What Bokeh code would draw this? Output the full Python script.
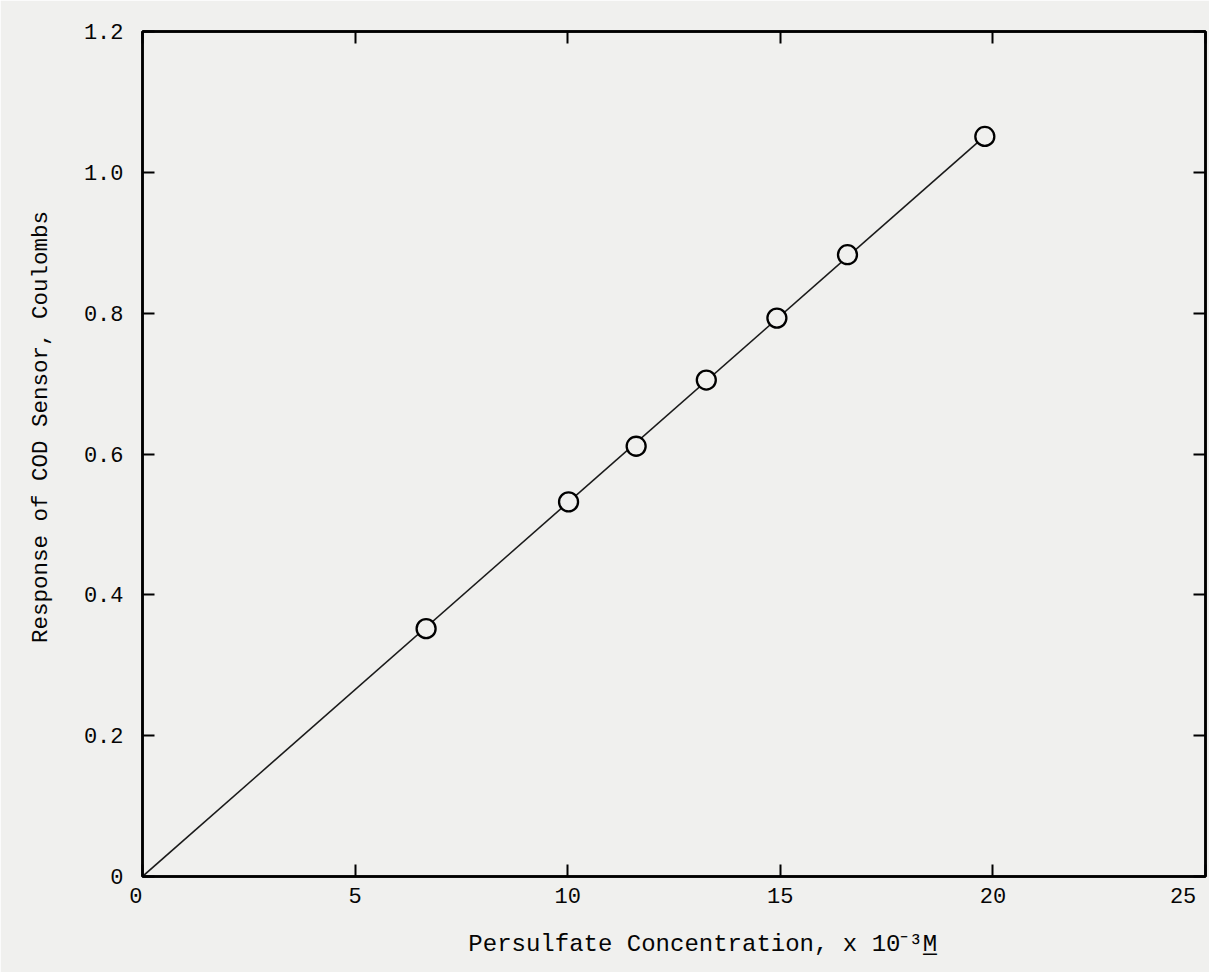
from bokeh.plotting import figure
from bokeh.models import LinearAxis, FixedTicker, Range1d
from bokeh.embed import file_html
from bokeh.resources import INLINE

# ---- data ----
conc = [6.67, 10.02, 11.61, 13.26, 14.92, 16.58, 19.81]      # persulfate, x10^-3 M
resp = [0.352, 0.532, 0.611, 0.705, 0.793, 0.883, 1.051]     # response, Coulombs

x_ticks = [0, 5, 10, 15, 20, 25]
x_tick_labels = ["0", "5", "10", "15", "20", "25"]
y_ticks = [0, 0.2, 0.4, 0.6, 0.8, 1.0, 1.2]
y_tick_labels = ["0", "0.2", "0.4", "0.6", "0.8", "1.0", "1.2"]

x_label = "Persulfate Concentration, x 10\u207b\u00b3M\u0332"
y_label = "Response of COD Sensor, Coulombs"

# least-squares line through the origin, from the data
slope = sum(a * b for a, b in zip(conc, resp)) / sum(a * a for a in conc)
fit_x = [0, max(conc)]
fit_y = [0, slope * max(conc)]

BG = "#f0f0ee"
FONT = "Liberation Mono"
NB = "\u00a0"   # non-breaking space, used only to nudge labels

p = figure(width=1209, height=972,
           x_range=Range1d(x_ticks[0], x_ticks[-1]),
           y_range=Range1d(y_ticks[0], y_ticks[-1]),
           output_backend="svg", toolbar_location=None,
           min_border_left=142, min_border_right=4,
           min_border_top=31, min_border_bottom=96,
           background_fill_color=BG, border_fill_color=BG,
           outline_line_color="black", outline_line_width=2.5)
p.xgrid.visible = False
p.ygrid.visible = False

def style_axis(ax, ticks):
    ax.ticker = FixedTicker(ticks=ticks)
    ax.minor_tick_line_color = None
    ax.major_tick_in = 12
    ax.major_tick_out = 0
    ax.major_tick_line_width = 2
    ax.major_tick_line_color = "black"
    ax.axis_line_width = 2.5
    ax.axis_line_color = "black"
    ax.major_label_text_font = FONT
    ax.major_label_text_font_size = "22px"
    ax.major_label_text_color = "#050505"
    ax.axis_label_text_font = FONT
    ax.axis_label_text_font_style = "normal"
    ax.axis_label_text_color = "#050505"

# the first and last x tick labels sit inward of their ticks, as in the original
x_lbl = list(x_tick_labels)
x_lbl[0] = x_lbl[0] + NB
x_lbl[-1] = x_lbl[-1] + NB

xa = p.xaxis[0]
style_axis(xa, x_ticks)
xa.major_label_overrides = dict(zip(x_ticks, x_lbl))
xa.major_label_standoff = 8
xa.axis_label = NB * 4 + x_label
xa.axis_label_text_font_size = "24px"
xa.axis_label_standoff = 18

ya = p.yaxis[0]
style_axis(ya, y_ticks)
ya.major_label_overrides = dict(zip(y_ticks, y_tick_labels))
ya.major_label_standoff = 19
ya.axis_label = NB * 4 + y_label
ya.axis_label_text_font_size = "22.5px"
ya.axis_label_standoff = 27

top = LinearAxis()
style_axis(top, x_ticks)
top.major_label_text_font_size = "1px"
top.major_label_text_color = None
top.major_label_standoff = 0
p.add_layout(top, "above")

right = LinearAxis()
style_axis(right, y_ticks)
right.major_label_text_font_size = "1px"
right.major_label_text_color = None
right.major_label_standoff = 0
p.add_layout(right, "right")

# fitted line and data points
p.line(fit_x, fit_y, line_color="#1a1a1a", line_width=1.6)
p.scatter(conc, resp, marker="circle", size=19, fill_color=BG,
          line_color="black", line_width=2.3)

open("out.html", "w").write(file_html(p, INLINE))
